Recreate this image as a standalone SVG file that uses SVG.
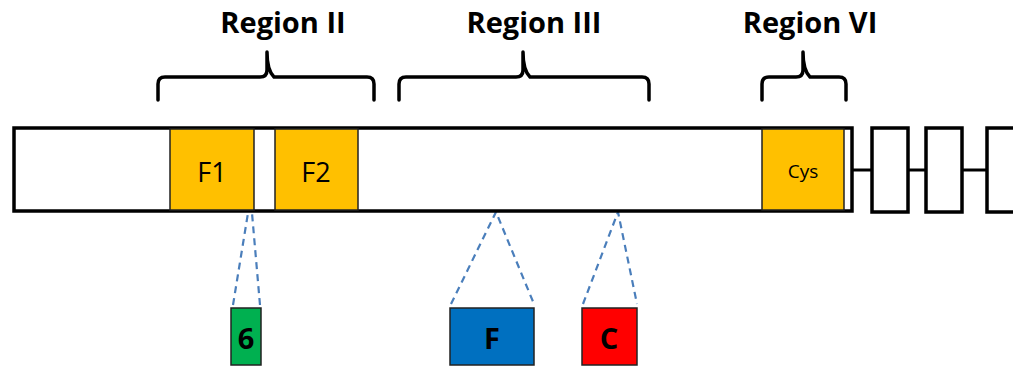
<svg xmlns="http://www.w3.org/2000/svg" width="1013" height="367" viewBox="0 0 1013 367">
<style>
.lbl{font-family:"Open Sans","Liberation Sans",sans-serif;font-weight:bold;font-size:29px;fill:#000;text-anchor:middle}
.dom{fill:#FFC000;stroke:#222;stroke-width:1.5}
.dtxt{font-family:"Open Sans","Liberation Sans",sans-serif;fill:#000;text-anchor:middle;dominant-baseline:central}
.brace{fill:none;stroke:#000;stroke-width:3.5;stroke-linejoin:round;stroke-linecap:round}
.dash{stroke:#4A7EBB;stroke-width:2.2;stroke-dasharray:7,5;fill:none}
.box{stroke:#222;stroke-width:1.5}
.btxt{font-family:"Open Sans","Liberation Sans",sans-serif;font-weight:bold;font-size:29px;fill:#000;text-anchor:middle;dominant-baseline:central}
</style>
<g id="labels">
<text class="lbl" x="283" y="33">Region II</text>
<text class="lbl" x="534" y="33">Region III</text>
<text class="lbl" x="810" y="33">Region VI</text>
</g>
<g id="braces">
<path class="brace" d="M158,100 V84 Q158,77 165,77 H260 Q267,77 267,70 V52 Q267,70 274,77 H367 Q374,77 374,84 V100"/>
<path class="brace" d="M399,100 V84 Q399,77 406,77 H516 Q523,77 523,70 V52 Q523,70 530,77 H642 Q649,77 649,84 V100"/>
<path class="brace" d="M762,100 V84 Q762,77 769,77 H796 Q803,77 803,70 V52 Q803,70 810,77 H839 Q846,77 846,84 V100"/>
</g>
<g id="connectors">
<line x1="852" y1="170" x2="872" y2="170" stroke="#000" stroke-width="3"/>
<line x1="908" y1="170" x2="926" y2="170" stroke="#000" stroke-width="3"/>
<line x1="962" y1="170" x2="987" y2="170" stroke="#000" stroke-width="3"/>
<path class="dash" d="M233,305 L248,213 M260,305 L252,213"/>
<path class="dash" d="M451,304 L496,212 L534,304"/>
<path class="dash" d="M583,304 L618,212 L637,304"/>
</g>
<g id="bar">
<rect x="14" y="128" width="838" height="83" fill="#fff" stroke="#000" stroke-width="3.5"/>
</g>
<g id="F1">
<rect class="dom" x="170" y="129" width="84" height="81"/>
<text class="dtxt" x="212" y="171" font-size="27">F1</text>
</g>
<g id="F2">
<rect class="dom" x="275" y="129" width="83" height="81"/>
<text class="dtxt" x="316" y="171" font-size="27">F2</text>
</g>
<g id="Cys">
<rect class="dom" x="762" y="129" width="82" height="81"/>
<text class="dtxt" x="803" y="171" font-size="19">Cys</text>
</g>
<g id="exon2"><rect x="872" y="128" width="36" height="84" fill="#fff" stroke="#000" stroke-width="3.5"/></g>
<g id="exon3"><rect x="926" y="128" width="36" height="84" fill="#fff" stroke="#000" stroke-width="3.5"/></g>
<g id="exon4"><rect x="987" y="128" width="40" height="84" fill="#fff" stroke="#000" stroke-width="3.5"/></g>
<g id="box6">
<rect class="box" x="231" y="308" width="30" height="57" fill="#00B050"/>
<text class="btxt" x="246" y="337">6</text>
</g>
<g id="boxF">
<rect class="box" x="450" y="308" width="84" height="57" fill="#0070C0"/>
<text class="btxt" x="492" y="337">F</text>
</g>
<g id="boxC">
<rect class="box" x="582" y="308" width="55" height="57" fill="#FF0000"/>
<text class="btxt" x="609" y="337">C</text>
</g>
</svg>
